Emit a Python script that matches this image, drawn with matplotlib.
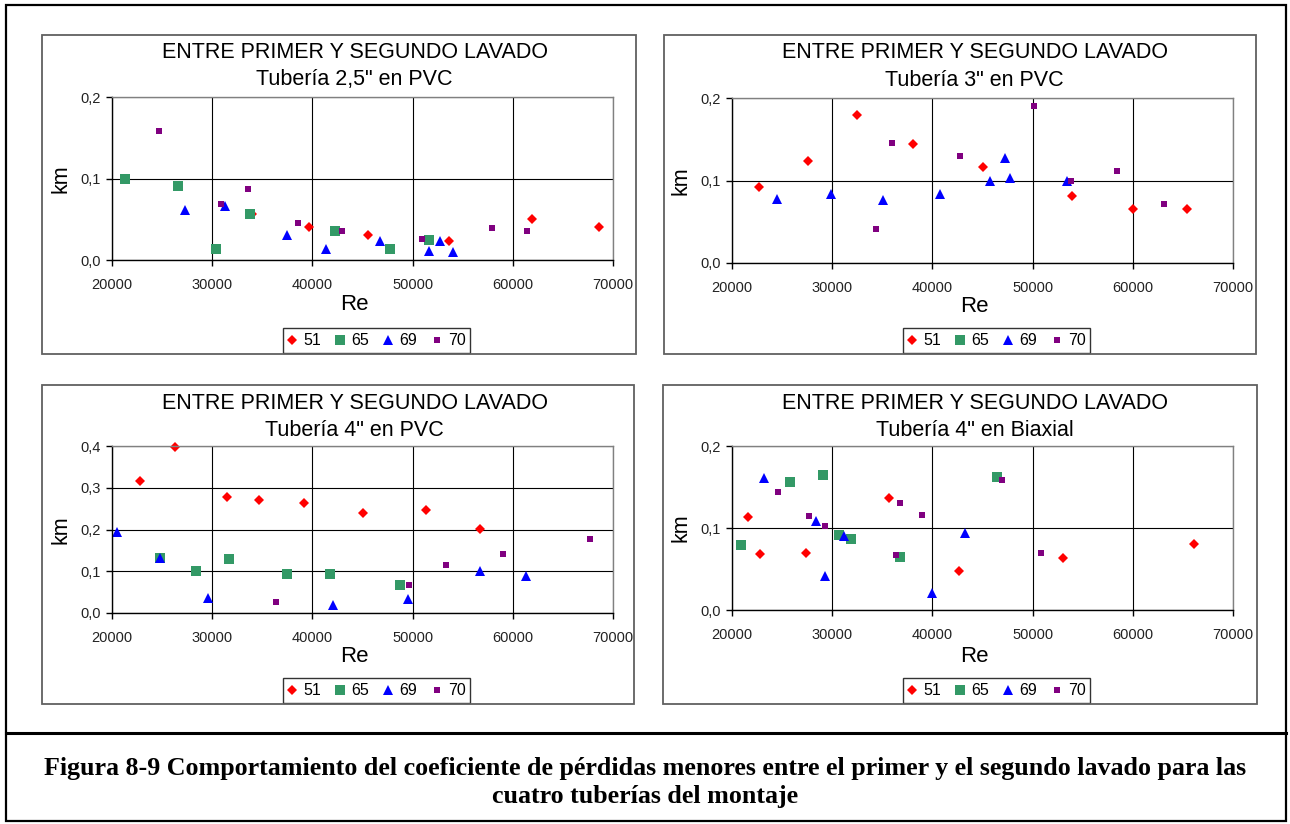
import matplotlib
matplotlib.use("Agg")
import matplotlib.pyplot as plt
from matplotlib.patches import Rectangle
from matplotlib.lines import Line2D
from matplotlib.ticker import FuncFormatter

plt.rcParams['font.family'] = ['Liberation Sans', 'DejaVu Sans']

# ---- data ----
series = ['51', '65', '69', '70']
title_top = 'ENTRE PRIMER Y SEGUNDO LAVADO'
subtitles = ['Tubería 2,5" en PVC', 'Tubería 3" en PVC', 'Tubería 4" en PVC', 'Tubería 4" en Biaxial']
x_ticks = [20000, 30000, 40000, 50000, 60000, 70000]

# panel 1: 2,5" PVC
p1_re_51 = [34000, 39700, 45500, 53600, 61900, 68600]
p1_km_51 = [0.056, 0.041, 0.031, 0.023, 0.050, 0.041]
p1_re_65 = [21300, 26600, 30400, 33800, 42300, 47700, 51600]
p1_km_65 = [0.100, 0.091, 0.014, 0.057, 0.036, 0.014, 0.024]
p1_re_69 = [27300, 31300, 37500, 41400, 46700, 51600, 52700, 54000]
p1_km_69 = [0.061, 0.066, 0.031, 0.014, 0.023, 0.011, 0.023, 0.010]
p1_re_70 = [24700, 30900, 33600, 38600, 43000, 50900, 57900, 61400]
p1_km_70 = [0.158, 0.069, 0.087, 0.045, 0.036, 0.026, 0.039, 0.036]

# panel 2: 3" PVC
p2_re_51 = [22700, 27600, 32500, 38100, 45000, 53900, 60000, 65400]
p2_km_51 = [0.092, 0.124, 0.179, 0.144, 0.116, 0.081, 0.066, 0.066]
p2_re_65 = []
p2_km_65 = []
p2_re_69 = [24500, 29900, 35100, 40800, 45700, 47200, 47700, 53400]
p2_km_69 = [0.078, 0.084, 0.076, 0.084, 0.099, 0.127, 0.103, 0.099]
p2_re_70 = [34400, 36000, 42800, 50100, 53800, 58400, 63100]
p2_km_70 = [0.041, 0.145, 0.130, 0.190, 0.100, 0.111, 0.072]

# panel 3: 4" PVC
p3_re_51 = [22750, 26300, 31500, 34700, 39200, 45000, 51300, 56700]
p3_km_51 = [0.315, 0.398, 0.278, 0.270, 0.264, 0.239, 0.247, 0.201]
p3_re_65 = [24800, 28400, 31700, 37500, 41800, 48700]
p3_km_65 = [0.131, 0.101, 0.129, 0.093, 0.093, 0.067]
p3_re_69 = [20500, 24800, 29600, 42100, 49500, 56700, 61300]
p3_km_69 = [0.194, 0.132, 0.036, 0.018, 0.034, 0.100, 0.088]
p3_re_70 = [36400, 49600, 53300, 59000, 67700]
p3_km_70 = [0.026, 0.066, 0.116, 0.142, 0.178]

# panel 4: 4" Biaxial
p4_re_51 = [21600, 22750, 27400, 35700, 42700, 53000, 66100]
p4_km_51 = [0.113, 0.068, 0.070, 0.137, 0.048, 0.063, 0.080]
p4_re_65 = [20900, 25800, 29100, 30700, 31900, 36800, 46400]
p4_km_65 = [0.079, 0.156, 0.165, 0.092, 0.086, 0.065, 0.162]
p4_re_69 = [23200, 28400, 29300, 31200, 40000, 43300]
p4_km_69 = [0.161, 0.108, 0.041, 0.090, 0.021, 0.094]
p4_re_70 = [24600, 27700, 29300, 36400, 36800, 39000, 46900, 50800]
p4_km_70 = [0.144, 0.115, 0.103, 0.067, 0.130, 0.116, 0.159, 0.069]

panel_data = [
    [(p1_re_51, p1_km_51), (p1_re_65, p1_km_65), (p1_re_69, p1_km_69), (p1_re_70, p1_km_70)],
    [(p2_re_51, p2_km_51), (p2_re_65, p2_km_65), (p2_re_69, p2_km_69), (p2_re_70, p2_km_70)],
    [(p3_re_51, p3_km_51), (p3_re_65, p3_km_65), (p3_re_69, p3_km_69), (p3_re_70, p3_km_70)],
    [(p4_re_51, p4_km_51), (p4_re_65, p4_km_65), (p4_re_69, p4_km_69), (p4_re_70, p4_km_70)],
]
y_ticks = [[0, 0.1, 0.2], [0, 0.1, 0.2], [0, 0.1, 0.2, 0.3, 0.4], [0, 0.1, 0.2]]

caption1 = 'Figura 8-9 Comportamiento del coeficiente de pérdidas menores entre el primer y el segundo lavado para las'
caption2 = 'cuatro tuberías del montaje'

# ---- layout (pixels) ----
W, H = 1290, 824
markers = ['D', 's', '^', 's']
colors = ['#ff0000', '#339966', '#0000ff', '#800080']
msizes = [5.5, 7.5, 7, 5]

# chart boxes, plot areas (x0, y0, x1, y1) in px
boxes = [(42, 35, 636, 354), (664, 35, 1256, 354), (42, 385, 634, 704), (663, 385, 1257, 704)]
areas = [(112, 97, 613, 260), (732, 98, 1233, 263), (112, 446, 613, 613), (732, 446, 1233, 610)]


def fx(x):
    return x / W


def fy(y):
    return 1 - y / H


fig = plt.figure(figsize=(W / 100, H / 100), dpi=100)

# outer frame and caption separator
fig.patches.append(Rectangle((fx(6), fy(821)), (1286 - 6) / W, (821 - 5) / H, transform=fig.transFigure,
                             fill=False, edgecolor='black', linewidth=1.6))
fig.lines.append(Line2D([fx(6), fx(1286)], [fy(733), fy(733)], transform=fig.transFigure,
                        color='black', linewidth=2.2))

comma = FuncFormatter(lambda v, p: ('%.1f' % v).replace('.', ','))

for i in range(4):
    bx0, by0, bx1, by1 = boxes[i]
    fig.patches.append(Rectangle((fx(bx0), fy(by1)), (bx1 - bx0) / W, (by1 - by0) / H,
                                 transform=fig.transFigure, fill=False, edgecolor='#606060', linewidth=1.3))
    ax0, ay0, ax1, ay1 = areas[i]
    ax = fig.add_axes([fx(ax0), fy(ay1), (ax1 - ax0) / W, (ay1 - ay0) / H])

    for j in range(4):
        re, km = panel_data[i][j]
        ax.plot(re, km, linestyle='none', marker=markers[j], color=colors[j],
                markersize=msizes[j], markeredgewidth=0, label=series[j], clip_on=False)

    ax.set_xlim(20000, 70000)
    ax.set_ylim(0, y_ticks[i][-1])
    ax.set_xticks(x_ticks)
    ax.set_yticks(y_ticks[i])
    ax.yaxis.set_major_formatter(comma)
    ax.tick_params(direction='out', length=4, width=1, color='black', labelsize=10.5,
                   labelcolor='#222222')
    ax.tick_params(axis='x', pad=9)
    ax.tick_params(axis='y', pad=4)
    ax.grid(True, color='black', linewidth=0.8)
    ax.set_axisbelow(True)
    for s in ['left', 'bottom']:
        ax.spines[s].set_color('black')
        ax.spines[s].set_linewidth(1)
    for s in ['top', 'right']:
        ax.spines[s].set_color('#808080')
        ax.spines[s].set_linewidth(1)

    cx = (ax0 + ax1) / 2 - 8
    fig.text(fx(cx), fy(by0 + 18), title_top, ha='center', va='center', fontsize=15.5)
    fig.text(fx(cx), fy(by0 + 45), subtitles[i], ha='center', va='center', fontsize=15.5)
    fig.text(fx(ax0 - 51), fy((ay0 + ay1) / 2), 'km', rotation=90, ha='center', va='center', fontsize=15.5)
    fig.text(fx(cx), fy(ay1 + 44 if i != 3 else ay1 + 47), 'Re', ha='center', va='center', fontsize=16)

    leg = ax.legend(loc='lower center', bbox_to_anchor=(fx(cx + 22), fy(by1 - 1)), bbox_transform=fig.transFigure,
                    ncol=4, frameon=True, fancybox=False, edgecolor='black', fontsize=11.5,
                    handlelength=0.6, handletextpad=0.4, columnspacing=0.9, borderpad=0.3,
                    borderaxespad=0, numpoints=1)
    leg.get_frame().set_linewidth(1)

fig.text(0.5, fy(768), caption1, ha='center', va='center', fontsize=18.7, fontweight='bold',
         family=['Liberation Serif', 'DejaVu Serif'])
fig.text(0.5, fy(797), caption2, ha='center', va='center', fontsize=18.7, fontweight='bold',
         family=['Liberation Serif', 'DejaVu Serif'])

fig.savefig('out.png', dpi=100)
